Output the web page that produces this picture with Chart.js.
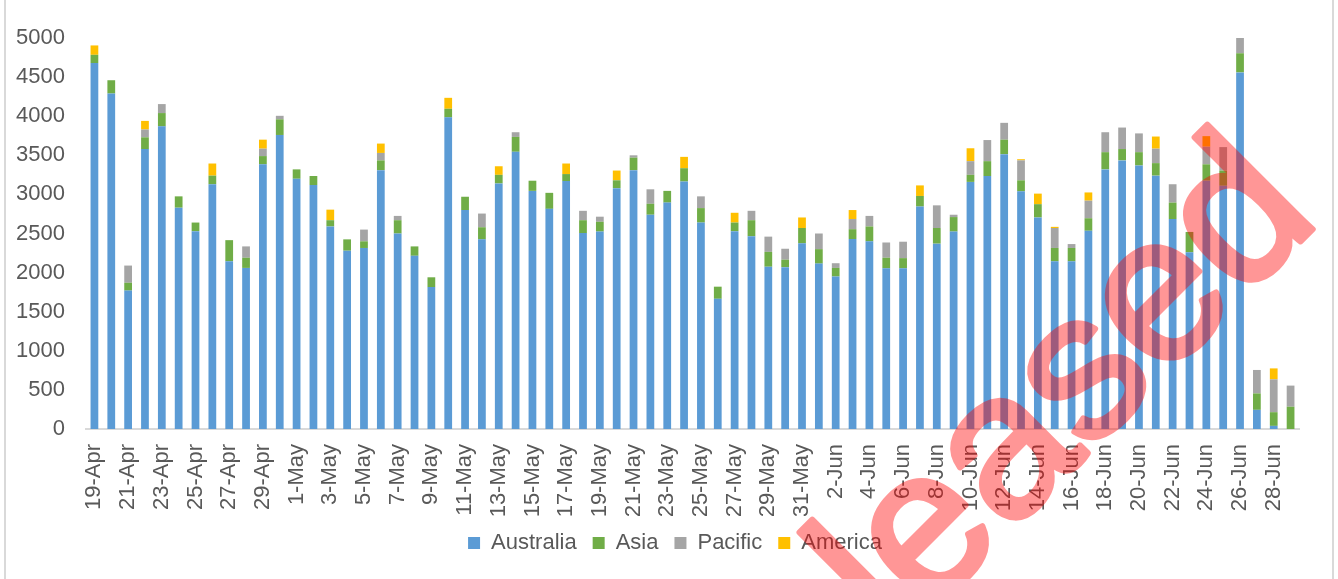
<!DOCTYPE html>
<html>
<head>
<meta charset="utf-8">
<script src="https://cdn.jsdelivr.net/npm/chart.js@4/dist/chart.umd.min.js"></script>
<style>
  html, body { margin: 0; padding: 0; background: #fff; }
  #wrap { position: relative; width: 1338px; height: 579px; }
  #frame { position: absolute; left: 4px; top: 0; width: 1326px; height: 579px;
           border-left: 2px solid #d9d9d9; border-right: 2px solid #d9d9d9; pointer-events: none; }
</style>
</head>
<body>
<div id="wrap">
  <canvas id="mainChart" width="1338" height="579"></canvas>
  <div id="frame"></div>
</div>
<script>
const days = [
  '19-Apr','20-Apr','21-Apr','22-Apr','23-Apr','24-Apr','25-Apr','26-Apr','27-Apr','28-Apr','29-Apr','30-Apr',
  '1-May','2-May','3-May','4-May','5-May','6-May','7-May','8-May','9-May','10-May','11-May','12-May',
  '13-May','14-May','15-May','16-May','17-May','18-May','19-May','20-May','21-May','22-May','23-May','24-May',
  '25-May','26-May','27-May','28-May','29-May','30-May','31-May','1-Jun','2-Jun','3-Jun','4-Jun','5-Jun',
  '6-Jun','7-Jun','8-Jun','9-Jun','10-Jun','11-Jun','12-Jun','13-Jun','14-Jun','15-Jun','16-Jun','17-Jun',
  '18-Jun','19-Jun','20-Jun','21-Jun','22-Jun','23-Jun','24-Jun','25-Jun','26-Jun','27-Jun','28-Jun','29-Jun'
];

const australia = [
  4680, 4290, 1770, 3580, 3870, 2830, 2530, 3130, 2145, 2060, 3385, 3760,
  3200, 3120, 2590, 2280, 2315, 3310, 2500, 2215, 1815, 3985, 2800, 2425,
  3140, 3545, 3045, 2815, 3170, 2505, 2525, 3080, 3310, 2740, 2895, 3165,
  2640, 1665, 2530, 2465, 2075, 2070, 2375, 2115, 1950, 2430, 2400, 2055,
  2055, 2845, 2370, 2525, 3160, 3235, 3515, 3040, 2705, 2145, 2145, 2535,
  3320, 3435, 3370, 3240, 2685, 2260, 3175, 3110, 4560, 245, 40, 0
];
const asia = [
  105, 170, 100, 150, 170, 145, 110, 110, 270, 130, 105, 200,
  120, 115, 80, 145, 85, 125, 170, 120, 125, 110, 170, 155,
  110, 190, 130, 205, 90, 165, 125, 100, 160, 140, 150, 170,
  185, 155, 110, 205, 190, 95, 195, 185, 110, 125, 190, 135,
  130, 135, 200, 185, 90, 190, 185, 140, 170, 170, 170, 160,
  220, 145, 170, 160, 210, 260, 210, 195, 245, 210, 175, 285
];
const pacific = [
  0, 0, 220, 100, 115, 0, 0, 0, 0, 145, 95, 45,
  0, 0, 0, 0, 150, 95, 55, 0, 0, 0, 0, 175,
  0, 60, 0, 0, 0, 120, 65, 0, 30, 185, 0, 0,
  150, 0, 0, 120, 195, 140, 0, 200, 60, 130, 135, 195,
  210, 0, 290, 30, 175, 270, 215, 255, 0, 255, 50, 225,
  255, 275, 240, 185, 235, 0, 225, 300, 205, 300, 420, 270
];
const america = [
  120, 0, 0, 110, 0, 0, 0, 155, 0, 0, 115, 0,
  0, 0, 135, 0, 0, 120, 0, 0, 0, 140, 0, 0,
  110, 0, 0, 0, 135, 0, 0, 125, 0, 0, 0, 145,
  0, 0, 125, 0, 0, 0, 135, 0, 0, 115, 0, 0,
  0, 135, 0, 0, 165, 0, 0, 15, 135, 15, 0, 105,
  0, 0, 0, 155, 0, 0, 135, 0, 0, 0, 140, 0
];

const textColor = '#595959';
const fontFamily = '"Liberation Sans", Arial, sans-serif';

// watermark: drawn solid on a scratch canvas, then laid over the chart translucent
const stampPlugin = {
    id: 'stamp',
    afterDraw(chart) {
        const off = document.createElement('canvas');
        off.width = chart.width;
        off.height = chart.height;
        const o = off.getContext('2d');
        o.font = '205px ' + fontFamily;
        o.fillStyle = '#ff0000';
        o.strokeStyle = '#ff0000';
        o.lineWidth = 6;
        o.lineJoin = 'round';
        o.translate(1322, 220);
        o.rotate(-Math.PI / 4);
        o.textAlign = 'right';
        o.textBaseline = 'alphabetic';
        o.fillText('Released', 0, 0);
        o.strokeText('Released', 0, 0);

        const c = chart.ctx;
        c.save();
        c.globalAlpha = 0.41;
        c.drawImage(off, 0, 0);
        c.restore();
    }
};

const ctx = document.getElementById('mainChart').getContext('2d');

function makeSet(label, data, color) {
    return {
        label: label,
        data: data,
        backgroundColor: color,
        borderWidth: 0,
        categoryPercentage: 1,
        barPercentage: 0.46
    };
}

new Chart(ctx, {
    type: 'bar',
    data: {
        labels: days,
        datasets: [
            makeSet('Australia', australia, '#5B9BD5'),
            makeSet('Asia', asia, '#70AD47'),
            makeSet('Pacific', pacific, '#A5A5A5'),
            makeSet('America', america, '#FFC000')
        ]
    },
    options: {
        responsive: false,
        animation: false,
        devicePixelRatio: 1,
        layout: { padding: { top: 38, right: 0, left: 12, bottom: 15 } },
        plugins: {
            legend: {
                position: 'bottom',
                labels: {
                    color: textColor,
                    font: { family: fontFamily, size: 22 },
                    boxWidth: 12,
                    boxHeight: 12,
                    padding: 16
                }
            },
            tooltip: { enabled: false }
        },
        scales: {
            x: {
                stacked: true,
                grid: { display: false, drawTicks: false },
                border: { display: true, color: '#d9d9d9', width: 2 },
                ticks: {
                    autoSkip: false,
                    maxRotation: 90,
                    minRotation: 90,
                    padding: 15,
                    color: textColor,
                    font: { family: fontFamily, size: 22 },
                    callback: function (value, index) {
                        return index % 2 === 0 ? days[index] : '';
                    }
                },
                afterFit: function (scale) { scale.height = 87; }
            },
            y: {
                stacked: true,
                min: 0,
                max: 5000,
                grid: { display: false, drawTicks: false },
                border: { display: false },
                ticks: {
                    stepSize: 500,
                    padding: 21,
                    color: textColor,
                    font: { family: fontFamily, size: 22 },
                    callback: function (value) { return String(value); }
                },
                afterFit: function (scale) { scale.width = 74; }
            },
            // empty right-hand axis, only to hold the right margin
            yRight: {
                position: 'right',
                display: true,
                grid: { display: false, drawTicks: false },
                border: { display: false },
                ticks: { display: false },
                afterFit: function (scale) { scale.width = 39; }
            }
        }
    },
    plugins: [stampPlugin]
});
</script>
</body>
</html>
